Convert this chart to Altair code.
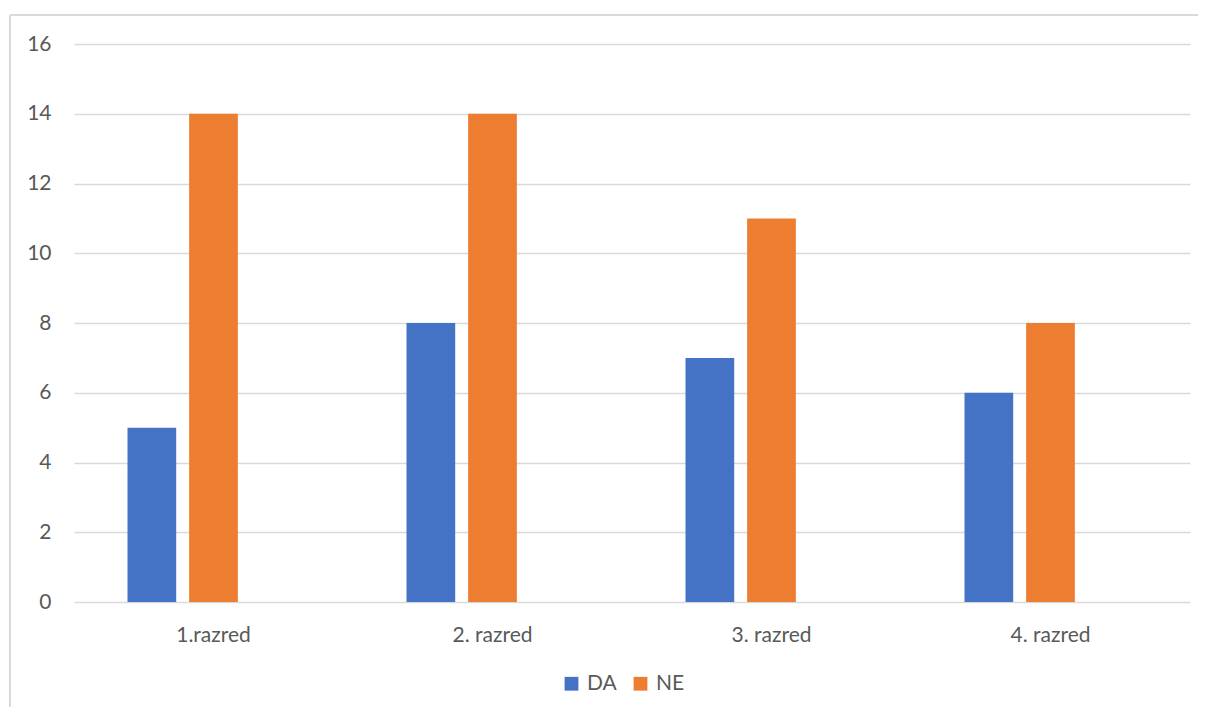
import altair as alt
import pandas as pd

categories = ["1.razred", "2. razred", "3. razred", "4. razred"]
series = ["DA", "NE"]
da_values = [5, 8, 7, 6]
ne_values = [14, 14, 11, 8]
y_ticks = [0, 2, 4, 6, 8, 10, 12, 14, 16]
colors = ["#4472C4", "#ED7D31"]

rows = []
for c, d, n in zip(categories, da_values, ne_values):
    rows.append({"razred": c, "serija": "DA", "vrijednost": d})
    rows.append({"razred": c, "serija": "NE", "vrijednost": n})
df = pd.DataFrame(rows)

FONT = "Lato"
TXT = "#595959"
GRID = "#D9D9D9"
FS = 21

bars = alt.Chart(df).mark_bar().encode(
    x=alt.X("razred:N", sort=categories, title=None,
            scale=alt.Scale(paddingInner=0.3835, paddingOuter=0.19175),
            axis=alt.Axis(labelAngle=0, ticks=False, domain=False, grid=False, labelPadding=22,
                          labelFontSize=FS, labelColor=TXT, labelFont=FONT)),
    xOffset=alt.XOffset("serija:N", scale=alt.Scale(domain=["DA", "NE", "_"], paddingInner=0.21, paddingOuter=0)),
    y=alt.Y("vrijednost:Q", title=None,
            scale=alt.Scale(domain=[0, 16], nice=False),
            axis=alt.Axis(values=y_ticks, ticks=False, domain=False, labelPadding=23,
                          labelFontSize=FS, labelColor=TXT, labelFont=FONT,
                          gridColor=GRID, gridWidth=1.5)),
    color=alt.Color("serija:N", title=None,
                    scale=alt.Scale(domain=series, range=colors),
                    legend=alt.Legend(orient="none", direction="horizontal",
                                      legendX=487, legendY=629,
                                      symbolType="square", symbolSize=190,
                                      symbolStrokeWidth=0, labelFontSize=FS,
                                      labelColor=TXT, labelFont=FONT,
                                      labelOffset=5, columnPadding=13)),
)

frame = pd.DataFrame({"k": [0]})
left_border = alt.Chart(frame).mark_rule(color=GRID, strokeWidth=2).encode(
    x=alt.value(-64), y=alt.value(-29), y2=alt.value(700))
top_border = alt.Chart(frame).mark_rule(color=GRID, strokeWidth=2).encode(
    x=alt.value(-64), x2=alt.value(1160), y=alt.value(-29))

chart = alt.layer(bars, left_border, top_border).properties(
    width=1116, height=558,
    background="white",
    autosize=alt.AutoSizeParams(type="none"),
    padding={"left": 66, "top": 36, "right": 8, "bottom": 105},
).configure_view(strokeWidth=0, stroke="transparent")

chart.save("out.html", embed_options={"renderer": "svg", "actions": False})
